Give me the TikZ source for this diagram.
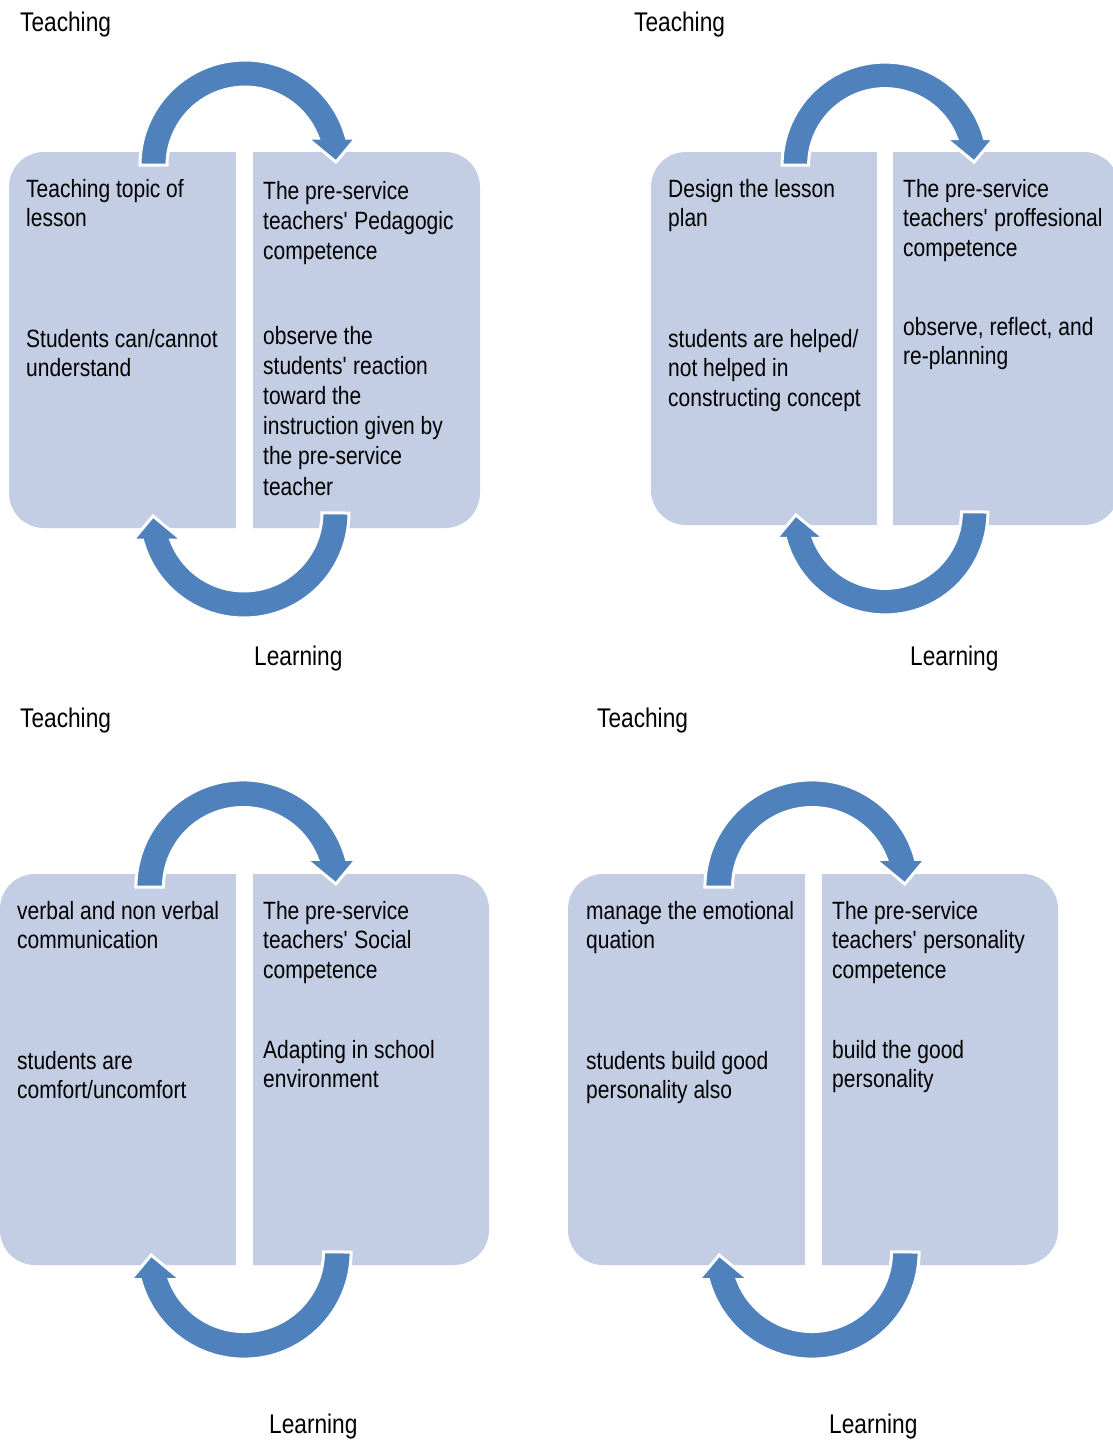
\documentclass[tikz,border=0pt]{standalone}
\usepackage{fontspec}
\setmainfont{Liberation Sans}[FakeStretch=0.84]
\definecolor{boxfill}{RGB}{195,205,227}
\definecolor{arrowblue}{RGB}{79,129,189}
\tikzset{
  panelbox/.style={fill=boxfill, rounded corners=35pt},
  gapstripe/.style={fill=white},
  tx/.style={anchor=base west, inner sep=0pt, font=\fontsize{25}{29.5}\selectfont},
  txw/.style={anchor=base west, inner sep=0pt, font=\fontsize{25}{30.2}\selectfont},
  lbl/.style={anchor=base west, inner sep=0pt, font=\fontsize{27}{32}\selectfont},
  cyc/.pic={
    \fill[arrowblue, draw=white, line width=3pt, line join=miter]
      (-105,0) arc[start angle=180, end angle=345.1, radius=105]
      -- (111,-27) -- (91,-3) -- (62,-27) -- (73.2,-27)
      arc[start angle=339.7, end angle=180, radius=78] -- cycle;
  }
}
\newcommand{\pb}[1]{\parbox[t]{300pt}{#1}}
\newcommand{\q}{\textquotesingle}
\begin{document}
\begin{tikzpicture}[x=1pt,y=-1pt]
\clip (0,0) rectangle (1113,1441);
\fill[white] (0,0) rectangle (1113,1441);

% ---------- Panel 1 ----------
\fill[panelbox] (9,152) rectangle (480,528);
\fill[gapstripe] (236,150) rectangle (253,530);
\pic at (245,165) {cyc};
\pic[rotate=180] at (244,513) {cyc};
\node[lbl] (t1) at (20,31) {Teaching};
\node[lbl] (l1) at (254,665) {Learning};
\node[tx] (a1) at (26,197) {\pb{Teaching topic of\\lesson}};
\node[tx] (b1) at (26,347) {\pb{Students can/cannot\\understand}};
\node[txw] (c1) at (263,199) {\pb{The pre-service\\teachers\q{} Pedagogic\\competence}};
\node[txw] (d1) at (263,344) {\pb{observe the\\students\q{} reaction\\toward the\\instruction given by\\the pre-service\\teacher}};

% ---------- Panel 2 ----------
\fill[panelbox] (651,152) rectangle (1119,525);
\fill[gapstripe] (877,150) rectangle (893,527);
\pic[scale=0.98] at (885,165) {cyc};
\pic[scale=0.98,rotate=180] at (885,512) {cyc};
\node[lbl] (t2) at (634,31) {Teaching};
\node[lbl] (l2) at (910,665) {Learning};
\node[tx] (a2) at (668,197) {\pb{Design the lesson\\plan}};
\node[tx] (b2) at (668,347) {\pb{students are helped/\\not helped in\\constructing concept}};
\node[tx] (c2) at (903,197) {\pb{The pre-service\\teachers\q{} proffesional\\competence}};
\node[tx] (d2) at (903,335) {\pb{observe, reflect, and\\re-planning}};

% ---------- Panel 3 ----------
\fill[panelbox] (0,874) rectangle (489,1265);
\fill[gapstripe] (236,872) rectangle (253,1267);
\pic[scale=1.02] at (243,887) {cyc};
\pic[scale=1.02,rotate=180] at (244,1252) {cyc};
\node[lbl] (t3) at (20,727) {Teaching};
\node[lbl] (l3) at (269,1433) {Learning};
\node[tx] (a3) at (17,919) {\pb{verbal and non verbal\\communication}};
\node[tx] (b3) at (17,1069) {\pb{students are\\comfort/uncomfort}};
\node[tx] (c3) at (263,919) {\pb{The pre-service\\teachers\q{} Social\\competence}};
\node[tx] (d3) at (263,1058) {\pb{Adapting in school\\environment}};

% ---------- Panel 4 ----------
\fill[panelbox] (568,874) rectangle (1058,1265);
\fill[gapstripe] (805,872) rectangle (822,1267);
\pic[scale=1.02] at (812,887) {cyc};
\pic[scale=1.02,rotate=180] at (812,1252) {cyc};
\node[lbl] (t4) at (597,727) {Teaching};
\node[lbl] (l4) at (829,1433) {Learning};
\node[tx] (a4) at (586,919) {\pb{manage the emotional\\quation}};
\node[tx] (b4) at (586,1069) {\pb{students build good\\personality also}};
\node[tx] (c4) at (832,919) {\pb{The pre-service\\teachers\q{} personality\\competence}};
\node[tx] (d4) at (832,1058) {\pb{build the good\\personality}};
\end{tikzpicture}
\end{document}
